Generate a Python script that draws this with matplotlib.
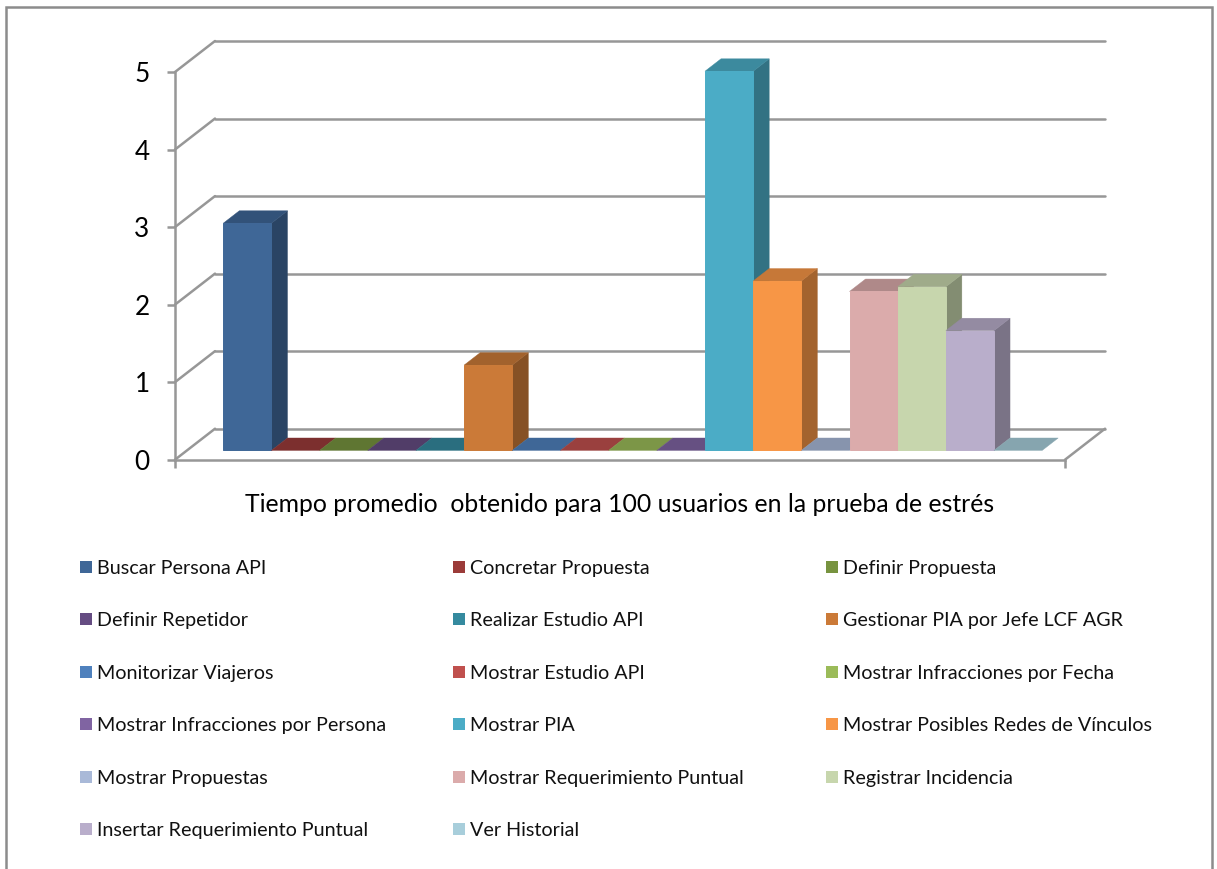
import matplotlib
matplotlib.use("Agg")
import matplotlib.pyplot as plt
from matplotlib.patches import Rectangle
from matplotlib.colors import to_rgb

plt.rcParams['font.family'] = ['Lato', 'DejaVu Sans']

categories = ["Buscar Persona API", "Concretar Propuesta", "Definir Propuesta",
              "Definir Repetidor", "Realizar Estudio API", "Gestionar PIA por Jefe LCF AGR",
              "Monitorizar Viajeros", "Mostrar Estudio API", "Mostrar Infracciones por Fecha",
              "Mostrar Infracciones por Persona", "Mostrar PIA", "Mostrar Posibles Redes de Vínculos",
              "Mostrar Propuestas", "Mostrar Requerimiento Puntual", "Registrar Incidencia",
              "Insertar Requerimiento Puntual", "Ver Historial"]
values = [2.93, 0, 0, 0, 0, 1.10, 0, 0, 0, 0, 4.89, 2.185, 0, 2.05, 2.11, 1.545, 0]
colors = ["#3F6797", "#9B3B39", "#77933F", "#654C82", "#358A9F", "#CB7A38",
          "#4F81BD", "#C0504D", "#9BBB59", "#8064A2", "#4BACC6", "#F79646",
          "#A9B9D8", "#DBABAB", "#C7D6AD", "#B9AECB", "#A8CEDB"]
yticks = [0, 1, 2, 3, 4, 5]
title = "Tiempo promedio  obtenido para 100 usuarios en la prueba de estrés"

W, H = 1217, 869
GRID = "#979797"
LW = 2.5 * 72 / 100

def shade(c, f):
    return tuple(v * f for v in to_rgb(c))

fig = plt.figure(figsize=(W / 100, H / 100), dpi=100, facecolor="white")

# outer chart-area border (left, top, right; bottom runs off the picture)
fig.add_artist(Rectangle((6 / W, -0.02), (1212 - 6) / W, (H - 6.5) / H + 0.02,
                         transform=fig.transFigure, fill=False, edgecolor="#8C8C8C", linewidth=LW))

# axes: the front plane of the pseudo-3D box
ax = fig.add_axes([175 / W, (H - 459.7) / H, (1065 - 175) / W, (459.7 - 72) / H])
ax.set_xlim(-1.2535, 17.2225)
ax.set_ylim(0, 5)
ax.patch.set_visible(False)
for s in ("top", "right"):
    ax.spines[s].set_visible(False)
for s in ("left", "bottom"):
    ax.spines[s].set_color(GRID)
    ax.spines[s].set_linewidth(LW)
    ax.spines[s].set_zorder(1)
ax.set_yticks(yticks)
ax.set_xticks(ax.get_xlim())
ax.set_xticklabels([])
ax.tick_params(axis="y", length=5.8, width=LW, color=GRID, pad=12.5, labelsize=18.8, labelcolor="black")
ax.tick_params(axis="x", length=5.8, width=LW, color=GRID)
ax.set_xlabel(title, fontsize=17.8, color="black", labelpad=15)

# depth vector per unit of depth, in data units
SX = 40 / 48.17
SY = 31 / 77.54
x0, x1 = ax.get_xlim()

# walls: grid lines on the back wall and diagonals on the side wall, floor
for v in yticks:
    ax.plot([x0, x0 + SX], [v, v + SY], color=GRID, lw=LW, clip_on=False, zorder=1, solid_capstyle="round")
    ax.plot([x0 + SX, x1 + SX], [v + SY, v + SY], color=GRID, lw=LW, clip_on=False, zorder=1, solid_capstyle="round")
ax.plot([x1, x1 + SX], [0, SY], color=GRID, lw=LW, clip_on=False, zorder=1, solid_capstyle="round")

# bars
D0, D1 = 0.3, 0.7
for i, (v, c) in enumerate(zip(values, colors)):
    z = 2 + i
    xl, xr = i - 0.5 + D0 * SX, i + 0.5 + D0 * SX
    yb, yt = D0 * SY, D0 * SY + v
    dx, dy = (D1 - D0) * SX, (D1 - D0) * SY
    if v > 0:
        ax.fill([xr, xr + dx, xr + dx, xr], [yb, yb + dy, yt + dy, yt], color=shade(c, 0.66),
                linewidth=0.3, zorder=z, clip_on=False)
    ax.fill([xl, xr, xr + dx, xl + dx], [yt, yt, yt + dy, yt + dy], color=shade(c, 0.8),
            linewidth=0.3, zorder=z, clip_on=False)
    if v > 0:
        ax.bar(i + D0 * SX, v, width=1, bottom=yb, color=c, edgecolor=c, linewidth=0.7,
               zorder=z + 0.5, clip_on=False)

# legend, 3 columns across 6 rows
for i, (name, c) in enumerate(zip(categories, colors)):
    row, col = i // 3, i % 3
    px = 80 + col * 373
    py = 567 + row * 52.4
    fig.add_artist(Rectangle((px / W, (H - py - 6) / H), 12 / W, 12 / H, transform=fig.transFigure,
                             facecolor=c, edgecolor="none"))
    fig.text((px + 17) / W, (H - py) / H, name, fontsize=14.2, color="#111111", ha="left", va="center_baseline")

fig.savefig("out.png", dpi=100, facecolor="white")
